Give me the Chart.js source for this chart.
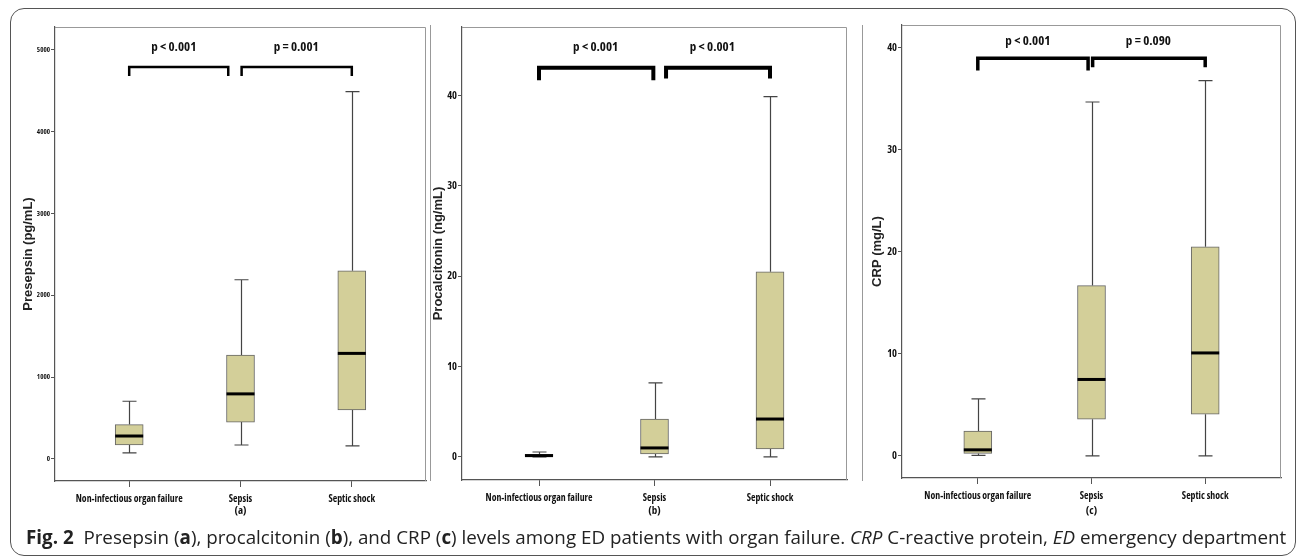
<!DOCTYPE html>
<html>
<head>
<meta charset="utf-8">
<script src="https://cdn.jsdelivr.net/npm/chart.js@4.4.1/dist/chart.umd.min.js"></script>
<style>
  body { margin: 0; width: 1298px; height: 558px; background: #fff; position: relative; overflow: hidden; }
  .frame { position: absolute; left: 10px; top: 8px; width: 1284px; height: 546px; border: 1px solid #555; border-radius: 14px; }
  .sep { position: absolute; top: 25px; width: 1px; height: 456px; background: #999; }
  canvas { position: absolute; top: 12px; }
  .caption { position: absolute; left: 26px; top: 524px; font-family: "Open Sans", sans-serif; font-size: 18.8px; color: #222; white-space: nowrap; }
  .caption b { font-weight: 700; }
</style>
</head>
<body>
<div class="frame"></div>
<div class="sep" style="left:430px"></div>
<div class="sep" style="left:862px"></div>
<canvas id="chartA" width="424" height="520" style="left:12px"></canvas>
<canvas id="chartB" width="434" height="520" style="left:426px"></canvas>
<canvas id="chartC" width="432" height="520" style="left:860px"></canvas>
<div class="caption"><b>Fig. 2</b>&nbsp; Presepsin (<b>a</b>), procalcitonin (<b>b</b>), and CRP (<b>c</b>) levels among ED patients with organ failure. <i>CRP</i> C-reactive protein, <i>ED</i> emergency department</div>

<script>
// Nhóm bệnh nhân
const groups = ["Non-infectious organ failure", "Sepsis", "Septic shock"];

// Presepsin (pg/mL)
const presepsinMin = [75, 170, 160];
const presepsinQ1 = [170, 450, 600];
const presepsinMedian = [280, 795, 1290];
const presepsinQ3 = [420, 1270, 2300];
const presepsinMax = [705, 2190, 4490];
const presepsinTicks = [0, 1000, 2000, 3000, 4000, 5000];
const presepsinP = ["p < 0.001", "p = 0.001"];

// Procalcitonin (ng/mL)
const pctMin = [0, 0, 0];
const pctQ1 = [0.05, 0.35, 0.9];
const pctMedian = [0.15, 1.0, 4.2];
const pctQ3 = [0.3, 4.2, 20.5];
const pctMax = [0.55, 8.2, 39.9];
const pctTicks = [0, 10, 20, 30, 40];
const pctP = ["p < 0.001", "p < 0.001"];

// CRP (mg/L)
const crpMin = [0.05, 0, 0];
const crpQ1 = [0.25, 3.6, 4.1];
const crpMedian = [0.6, 7.5, 10.1];
const crpQ3 = [2.45, 16.7, 20.5];
const crpMax = [5.6, 34.7, 36.8];
const crpTicks = [0, 10, 20, 30, 40];
const crpP = ["p < 0.001", "p = 0.090"];

const tickFamily = '"Open Sans", sans-serif';
const sans = '"Liberation Sans", Arial, sans-serif';

// Cấu hình vị trí cho từng panel
const panels = [
  {
    id: "chartA", letter: "(a)", title: "Presepsin (pg/mL)",
    min: presepsinMin, q1: presepsinQ1, median: presepsinMedian, q3: presepsinQ3, max: presepsinMax,
    ticks: presepsinTicks, p: presepsinP, yMin: -270, yMax: 5280, tickSize: 7,
    padTop: 15, padRight: 10, yWidth: 43, xHeight: 51, titlePad: 9,
    pX: [0.40, 1.50], pY: 5037,
    brackets: [[0, 0.89, 4792, 4682], [1.01, 2, 4792, 4682]], bracketWidth: 2.5
  },
  {
    id: "chartB", letter: "(b)", title: "Procalcitonin (ng/mL)",
    min: pctMin, q1: pctQ1, median: pctMedian, q3: pctQ3, max: pctMax,
    ticks: pctTicks, p: pctP, yMin: -2.55, yMax: 47.6, tickSize: 10.5,
    padTop: 15, padRight: 13, yWidth: 36, xHeight: 52, titlePad: 5,
    pX: [0.49, 1.50], pY: 45.3,
    brackets: [[0, 0.99, 43.1, 41.7], [1.10, 2, 43.1, 41.9]], bracketWidth: 4
  },
  {
    id: "chartC", letter: "(c)", title: "CRP (mg/L)",
    min: crpMin, q1: crpQ1, median: crpMedian, q3: crpQ3, max: crpMax,
    ticks: crpTicks, p: crpP, yMin: -2.16, yMax: 42.25, tickSize: 10.5,
    padTop: 13, padRight: 11, yWidth: 42, xHeight: 54, titlePad: 10,
    pX: [0.44, 1.50], pY: 40.7,
    brackets: [[0, 0.97, 39.0, 37.8], [1.01, 2, 39.0, 38.1]], bracketWidth: 3.5
  }
];

function makeChart(panel) {
  // Vẽ râu, vạch trung vị, khung và dấu ngoặc p-value
  const boxPlugin = {
    id: "boxExtras",
    beforeDatasetsDraw(chart) {
      const { ctx, chartArea: a, scales } = chart;
      const xs = scales.x, ys = scales.y;
      ctx.save();
      ctx.strokeStyle = "#999";
      ctx.lineWidth = 1;
      ctx.beginPath();
      ctx.moveTo(a.left, a.top + 0.5);
      ctx.lineTo(a.right - 0.5, a.top + 0.5);
      ctx.lineTo(a.right - 0.5, a.bottom);
      ctx.stroke();

      ctx.strokeStyle = "#444";
      ctx.lineWidth = 1.2;
      groups.forEach((g, i) => {
        const x = Math.round(xs.getPixelForValue(i)) + 0.5;
        const yMax = ys.getPixelForValue(panel.max[i]);
        const yMin = ys.getPixelForValue(panel.min[i]);
        ctx.beginPath();
        ctx.moveTo(x, yMax);
        ctx.lineTo(x, ys.getPixelForValue(panel.q3[i]));
        ctx.moveTo(x, ys.getPixelForValue(panel.q1[i]));
        ctx.lineTo(x, yMin);
        ctx.moveTo(x - 7, yMax);
        ctx.lineTo(x + 7, yMax);
        ctx.moveTo(x - 7, yMin);
        ctx.lineTo(x + 7, yMin);
        ctx.stroke();
      });
      ctx.restore();
    },
    afterDatasetsDraw(chart) {
      const { ctx, scales } = chart;
      const xs = scales.x, ys = scales.y;
      ctx.save();
      ctx.strokeStyle = "#000";
      ctx.lineWidth = 3;
      groups.forEach((g, i) => {
        const x = xs.getPixelForValue(i);
        const y = ys.getPixelForValue(panel.median[i]);
        ctx.beginPath();
        ctx.moveTo(x - 14, y);
        ctx.lineTo(x + 14, y);
        ctx.stroke();
      });

      ctx.lineWidth = panel.bracketWidth;
      ctx.lineJoin = "miter";
      panel.brackets.forEach(b => {
        const x0 = xs.getPixelForValue(b[0]);
        const x1 = xs.getPixelForValue(b[1]);
        const yTop = ys.getPixelForValue(b[2]);
        const yLeg = ys.getPixelForValue(b[3]);
        ctx.beginPath();
        ctx.moveTo(x0, yLeg);
        ctx.lineTo(x0, yTop);
        ctx.lineTo(x1, yTop);
        ctx.lineTo(x1, yLeg);
        ctx.stroke();
      });

      ctx.fillStyle = "#111";
      ctx.font = "bold condensed 13px 'Open Sans', sans-serif";
      ctx.textAlign = "center";
      ctx.textBaseline = "middle";
      panel.p.forEach((t, i) => {
        ctx.fillText(t, xs.getPixelForValue(panel.pX[i]), ys.getPixelForValue(panel.pY));
      });
      ctx.restore();
    }
  };

  return new Chart(document.getElementById(panel.id), {
    type: "bar",
    data: {
      datasets: [
        {
          data: groups.map((g, i) => ({ x: i, y: [panel.q1[i], panel.q3[i]] })),
          backgroundColor: "rgb(211, 207, 153)",
          borderColor: "#666",
          borderWidth: 1,
          borderSkipped: false,
          barThickness: 28,
          grouped: false
        }
      ]
    },
    options: {
      responsive: false,
      animation: false,
      devicePixelRatio: 1,
      layout: { padding: { top: panel.padTop, right: panel.padRight, left: 0, bottom: 0 } },
      plugins: { legend: { display: false }, tooltip: { enabled: false } },
      scales: {
        x: {
          type: "linear",
          offset: false,
          min: -2 / 3,
          max: 8 / 3,
          afterBuildTicks: s => { s.ticks = groups.map((g, i) => ({ value: i })); },
          afterFit: s => { s.height = panel.xHeight; },
          ticks: {
            callback: v => groups[v],
            font: { family: tickFamily, size: 9.8, weight: "bold condensed" },
            color: "#111",
            padding: 6,
            maxRotation: 0,
            autoSkip: false
          },
          grid: { drawOnChartArea: false, offset: false, tickLength: 6, color: "#555" },
          border: { color: "#555", width: 1.2 },
          title: {
            display: true,
            text: panel.letter,
            font: { family: tickFamily, size: 11, weight: "bold condensed" },
            color: "#111",
            padding: { top: 0, bottom: 15 }
          }
        },
        y: {
          min: panel.yMin,
          max: panel.yMax,
          afterBuildTicks: s => { s.ticks = panel.ticks.map(v => ({ value: v })); },
          afterFit: s => { s.width = panel.yWidth; },
          ticks: {
            callback: v => String(v),
            font: { family: tickFamily, size: panel.tickSize, weight: "bold condensed" },
            color: "#111",
            padding: 1
          },
          grid: { drawOnChartArea: false, tickLength: 4, color: "#555" },
          border: { color: "#555", width: 1.2 },
          title: {
            display: true,
            text: panel.title,
            font: { family: sans, size: 13, weight: "bold" },
            color: "#222",
            padding: { top: panel.titlePad, bottom: 0 }
          }
        }
      }
    },
    plugins: [boxPlugin]
  });
}

panels.forEach(makeChart);
</script>
</body>
</html>
